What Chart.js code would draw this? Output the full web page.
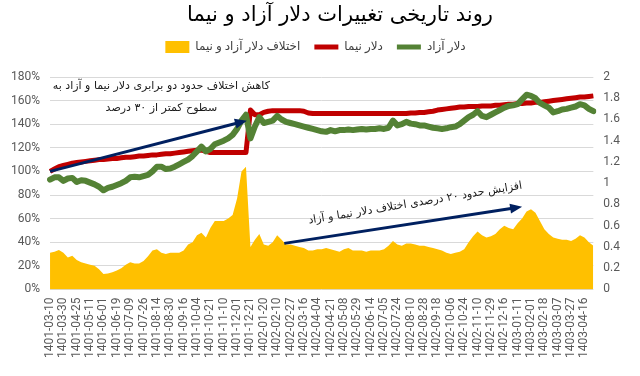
<!DOCTYPE html>
<html lang="fa">
<head>
<meta charset="utf-8">
<title>روند تاریخی تغییرات دلار آزاد و نیما</title>
<script src="https://cdn.jsdelivr.net/npm/chart.js@4.4.1/dist/chart.umd.min.js"></script>
<style>
  html, body { margin: 0; padding: 0; background: #fff; }
  canvas { display: block; }
</style>
</head>
<body>
<canvas id="dollar-chart" width="640" height="376"></canvas>
<script>
var chartTitle = 'روند تاریخی تغییرات دلار آزاد و نیما';

// tick labels, one every 3 points
var dates = [
  '1401-03-10', '1401-03-30', '1401-04-25', '1401-05-11', '1401-06-01', '1401-06-19',
  '1401-07-09', '1401-07-26', '1401-08-14', '1401-08-30', '1401-09-16', '1401-10-04',
  '1401-10-21', '1401-11-10', '1401-12-01', '1401-12-21', '1402-01-20', '1402-02-10',
  '1402-02-27', '1402-03-16', '1402-04-04', '1402-04-21', '1402-05-08', '1402-05-29',
  '1402-06-14', '1402-07-05', '1402-07-24', '1402-08-10', '1402-08-28', '1402-09-18',
  '1402-10-06', '1402-10-24', '1402-11-10', '1402-11-29', '1402-12-16', '1403-01-11',
  '1403-02-01', '1403-02-18', '1403-03-07', '1403-03-27', '1403-04-16'
];

// difference free / nima (%)
var gap = [
  31, 32, 33.5, 31, 27, 28.5, 25, 23, 22, 21,
  20, 17, 13, 13.5, 14.5, 16, 18, 21, 23, 22,
  22, 24, 28, 33, 34, 31, 30, 31, 31, 31,
  33, 38, 40, 46, 48, 44, 52, 58, 58, 58,
  60, 63, 77, 100, 104, 36, 42, 47, 38, 37,
  40, 46, 42, 38, 38, 37, 36, 35, 33, 33,
  34, 34, 35, 34, 33, 32, 34, 35, 33, 33,
  33, 32, 33, 33, 33, 34, 37, 41, 38, 37,
  39, 39, 38, 37, 37, 36, 35, 34, 33, 31,
  30, 31, 32, 34, 40, 45, 49, 46, 44, 45,
  47, 51, 54, 52, 51, 56, 60, 66, 68, 65,
  58, 51, 47, 44, 43, 42, 42, 41, 43, 46,
  44, 40, 37
];

// nima dollar (index, %)
var nima = [
  100, 102, 104, 105, 106, 107, 107.5, 108, 108.5, 109,
  109.5, 110, 110, 110.5, 111, 111, 111.5, 112, 112, 112.5,
  113, 113, 113.5, 114, 114, 114.5, 115, 115, 115.5, 116,
  116.5, 117, 117.5, 118, 118, 117, 116, 116, 116, 116,
  116, 116, 116, 116, 116, 152, 148, 148, 150, 151,
  151.5, 151.5, 151.5, 151.5, 151.5, 151.5, 151.5, 151, 149.5, 149,
  149, 149, 149, 149, 149, 149, 149, 149, 149, 149,
  149, 149, 149, 149, 149, 149, 149, 149, 149, 149,
  149, 149.5, 149.5, 150, 150, 150.5, 151, 152, 152.5, 153,
  153.5, 154, 154.5, 154.5, 155, 155, 155, 155.5, 155.5, 155.5,
  156, 156, 156.5, 157, 157, 157.5, 157.5, 158, 158, 158.5,
  158.5, 159, 159.5, 160, 160.5, 161, 161.5, 162, 162.5, 163,
  163, 163.5, 164
];

// free dollar (index, %)
var azad = [
  93, 95, 95, 92, 94, 94.5, 91, 92.5, 92, 90.5,
  89, 87, 84, 86, 87, 88.5, 90, 92, 95, 95.5,
  95, 96, 97, 100, 104, 104, 102, 102.5, 104, 106,
  108, 110, 113, 117, 121, 117, 119, 123, 124.5, 126,
  128, 131, 136, 143, 148, 128, 138, 146, 141, 142,
  143, 147, 144, 142, 141, 140, 139, 138, 137, 136,
  135, 134, 133.5, 135, 134, 135, 135, 135.5, 135, 135.5,
  136, 135.5, 136, 136, 136.5, 136, 137, 143, 139, 140,
  142, 140.5, 140, 139, 139, 138, 137, 136.5, 136, 136.5,
  137.5, 138, 140, 143, 146, 148, 151, 147, 146, 148,
  150, 152, 154, 155.5, 156, 157, 161, 165, 164, 162,
  158, 156, 154, 150, 151, 152.5, 153, 154, 155, 157,
  156, 153, 151
];

// notes on the chart, in data units [index, percent]
var arrows = [
  { from: [0, 100], to: [44.2, 143] },
  { from: [52.6, 39], to: [106, 70] }
];
var notes = [
  { text: 'کاهش اختلاف حدود دو برابری دلار نیما و آزاد به', at: [25, 172.5], angle: 0 },
  { text: 'سطوح کمتر از ۳۰ درصد', at: [25, 153.5], angle: 0 },
  { text: 'افزایش حدود ۲۰ درصدی اختلاف دلار نیما و آزاد', at: [82, 73], angle: -9.3 }
];

var labels = [];
for (var i = 0; i < gap.length; i++) {
  labels.push(i % 3 === 0 && dates[i / 3] ? dates[i / 3] : '');
}

Chart.defaults.font.family = "Roboto, 'Liberation Sans', 'DejaVu Sans', sans-serif";
Chart.defaults.color = '#595959';

var titlePlugin = {
  id: 'pageTitle',
  beforeLayout: function(chart) {
    // leave some room between legend and plot
    var lg = chart.legend;
    if (lg && !lg._gapPatched) {
      var fit = lg.fit;
      lg.fit = function() { fit.call(this); this.height += 14; };
      lg._gapPatched = true;
    }
  },
  afterDraw: function(chart) {
    var ctx = chart.ctx;
    ctx.save();
    ctx.font = "21px 'DejaVu Sans'";
    ctx.fillStyle = '#000';
    ctx.textAlign = 'center';
    ctx.textBaseline = 'middle';
    ctx.fillText(chartTitle, 340, 16);
    ctx.restore();
  }
};

var notePlugin = {
  id: 'notes',
  afterDatasetsDraw: function(chart) {
    var ctx = chart.ctx, sx = chart.scales.x, sy = chart.scales.y;
    ctx.save();
    ctx.strokeStyle = '#002060';
    ctx.fillStyle = '#002060';
    ctx.lineWidth = 3;
    arrows.forEach(function(a) {
      var x1 = sx.getPixelForValue(a.from[0]), y1 = sy.getPixelForValue(a.from[1]);
      var x2 = sx.getPixelForValue(a.to[0]), y2 = sy.getPixelForValue(a.to[1]);
      var ang = Math.atan2(y2 - y1, x2 - x1);
      var c = Math.cos(ang), s = Math.sin(ang), head = 12, half = 5;
      ctx.beginPath();
      ctx.moveTo(x1, y1);
      ctx.lineTo(x2 - c * head * 0.8, y2 - s * head * 0.8);
      ctx.stroke();
      ctx.beginPath();
      ctx.moveTo(x2, y2);
      ctx.lineTo(x2 - c * head + s * half, y2 - s * head - c * half);
      ctx.lineTo(x2 - c * head - s * half, y2 - s * head + c * half);
      ctx.closePath();
      ctx.fill();
    });
    ctx.fillStyle = '#1a1a1a';
    ctx.font = "11px 'DejaVu Sans'";
    ctx.textAlign = 'center';
    ctx.textBaseline = 'middle';
    notes.forEach(function(n) {
      ctx.save();
      ctx.translate(sx.getPixelForValue(n.at[0]), sy.getPixelForValue(n.at[1]));
      ctx.rotate(n.angle * Math.PI / 180);
      ctx.fillText(n.text, 0, 0);
      ctx.restore();
    });
    ctx.restore();
  }
};

new Chart(document.getElementById('dollar-chart'), {
  type: 'line',
  data: {
    labels: labels,
    datasets: [
      {
        label: 'دلار آزاد',
        data: azad,
        borderColor: '#548235',
        backgroundColor: '#548235',
        borderWidth: 6,
        pointRadius: 0,
        borderJoinStyle: 'round',
        borderCapStyle: 'round',
        fill: false
      },
      {
        label: 'دلار نیما',
        data: nima,
        borderColor: '#C00000',
        backgroundColor: '#C00000',
        borderWidth: 5,
        pointRadius: 0,
        borderJoinStyle: 'round',
        fill: false
      },
      {
        label: 'اختلاف دلار آزاد و نیما',
        data: gap,
        borderColor: '#FFC000',
        backgroundColor: '#FFC000',
        borderWidth: 0,
        pointRadius: 0,
        fill: 'origin'
      }
    ]
  },
  options: {
    responsive: false,
    animation: false,
    devicePixelRatio: 1,
    layout: { padding: { top: 27, left: 1, right: 10, bottom: 10 } },
    plugins: {
      title: { display: false },
      tooltip: { enabled: false },
      legend: {
        position: 'top',
        labels: {
          usePointStyle: true,
          pointStyleWidth: 24,
          padding: 14,
          color: '#404040',
          font: { size: 12 },
          generateLabels: function(chart) {
            return chart.data.datasets.map(function(ds, i) {
              var area = ds.fill !== false;
              return {
                text: ds.label,
                fillStyle: ds.backgroundColor,
                strokeStyle: ds.borderColor,
                lineWidth: area ? 0 : 5,
                pointStyle: area ? 'rect' : 'line',
                datasetIndex: i,
                hidden: false,
                fontColor: '#404040'
              };
            }).reverse();
          }
        }
      }
    },
    scales: {
      x: {
        grid: { display: false, drawTicks: false },
        border: { display: false },
        ticks: {
          autoSkip: false,
          maxRotation: 90,
          minRotation: 90,
          padding: 8,
          color: '#595959',
          font: { size: 12 }
        }
      },
      y: {
        position: 'left',
        min: 0,
        max: 180,
        grid: { color: '#d9d9d9', drawTicks: false },
        border: { display: false },
        ticks: {
          stepSize: 20,
          padding: 10,
          font: { size: 12 },
          callback: function(v) { return v + '%'; }
        }
      },
      y1: {
        position: 'right',
        min: 0,
        max: 2,
        grid: { display: false, drawTicks: false },
        border: { display: false },
        ticks: {
          stepSize: 0.2,
          padding: 10,
          font: { size: 12 },
          callback: function(v) { return String(Math.round(v * 10) / 10); }
        }
      }
    }
  },
  plugins: [titlePlugin, notePlugin]
});
</script>
</body>
</html>
